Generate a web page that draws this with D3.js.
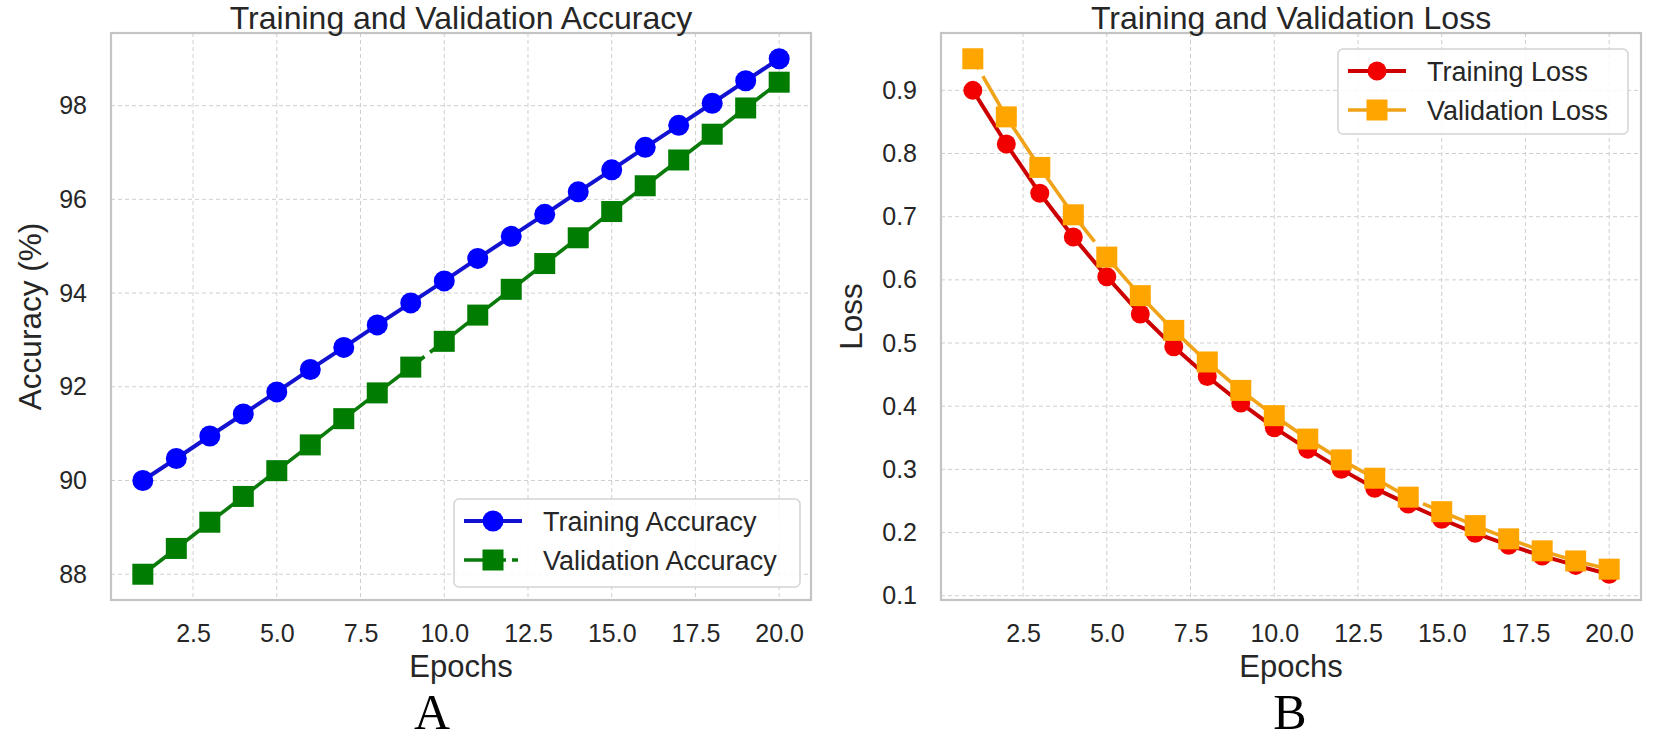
<!DOCTYPE html>
<html><head><meta charset="utf-8">
<script src="https://cdn.jsdelivr.net/npm/d3@7"></script>
<style>
body{margin:0;background:#fff}
svg{display:block}
text{font-family:"Liberation Sans",Arial,Helvetica,sans-serif;fill:#262626}
</style>
</head><body>
<svg id="c" width="1654" height="740"></svg>
<script>
// ---- data ----
const epochs    = [1,2,3,4,5,6,7,8,9,10,11,12,13,14,15,16,17,18,19,20];
const trainAcc  = [90.00,90.47,90.95,91.42,91.89,92.37,92.84,93.32,93.79,94.26,94.74,95.21,95.68,96.16,96.63,97.11,97.58,98.05,98.53,99.00];
const valAcc    = [88.00,88.55,89.11,89.66,90.21,90.76,91.32,91.87,92.42,92.97,93.53,94.08,94.63,95.18,95.74,96.29,96.84,97.39,97.95,98.50];
const trainLoss = [0.900,0.815,0.737,0.668,0.605,0.546,0.494,0.447,0.405,0.366,0.332,0.300,0.270,0.245,0.221,0.199,0.180,0.163,0.148,0.134];
const valLoss   = [0.950,0.858,0.778,0.703,0.636,0.575,0.520,0.470,0.425,0.385,0.348,0.315,0.286,0.256,0.233,0.211,0.190,0.171,0.155,0.142];
const xTicks    = [2.5,5,7.5,10,12.5,15,17.5,20];
const accTicks  = [88,90,92,94,96,98];
const lossTicks = [0.1,0.2,0.3,0.4,0.5,0.6,0.7,0.8,0.9];
const titles    = ["Training and Validation Accuracy","Training and Validation Loss"];
const yLabels   = ["Accuracy (%)","Loss"];
const xLabel    = "Epochs";
const letters   = ["A","B"];
const accNames  = ["Training Accuracy","Validation Accuracy"];
const lossNames = ["Training Loss","Validation Loss"];

const svg = d3.select("#c");
svg.append("rect").attr("width",1654).attr("height",740).attr("fill","#fff");

function pad(ext){const r=ext[1]-ext[0];return [ext[0]-0.05*r, ext[1]+0.05*r];}

function panel(cfg){
  const g = svg.append("g");
  const x = d3.scaleLinear().domain(pad(d3.extent(epochs))).range([cfg.left,cfg.right]);
  const allY = cfg.series.flatMap(s=>s.values);
  const y = d3.scaleLinear().domain(pad(d3.extent(allY))).range([cfg.bottom,cfg.top]);

  // grid
  g.append("g").selectAll("line").data(xTicks).join("line")
    .attr("x1",d=>x(d)).attr("x2",d=>x(d)).attr("y1",cfg.top).attr("y2",cfg.bottom)
    .attr("stroke","#cfcfcf").attr("stroke-width",1).attr("stroke-dasharray","4 3");
  g.append("g").selectAll("line").data(cfg.yTicks).join("line")
    .attr("y1",d=>y(d)).attr("y2",d=>y(d)).attr("x1",cfg.left).attr("x2",cfg.right)
    .attr("stroke","#cfcfcf").attr("stroke-width",1).attr("stroke-dasharray","4 3");

  // axes
  const ax = g.append("g").attr("transform",`translate(0,${cfg.bottom})`)
    .call(d3.axisBottom(x).tickValues(xTicks).tickSize(0).tickPadding(24).tickFormat(d3.format(".1f")));
  const ay = g.append("g").attr("transform",`translate(${cfg.left},0)`)
    .call(d3.axisLeft(y).tickValues(cfg.yTicks).tickSize(0).tickPadding(24).tickFormat(cfg.yFmt));
  [ax,ay].forEach(a=>{a.select(".domain").remove();a.selectAll("text").attr("font-size",25).attr("fill","#262626").attr("font-family","'Liberation Sans',Arial,sans-serif");});

  // spines
  g.append("rect").attr("x",cfg.left).attr("y",cfg.top)
    .attr("width",cfg.right-cfg.left).attr("height",cfg.bottom-cfg.top)
    .attr("fill","none").attr("stroke","#c4c4c4").attr("stroke-width",2.2);

  // series
  const line = d3.line().x((d,i)=>x(epochs[i])).y(d=>y(d));
  cfg.series.forEach(s=>{
    const p = g.append("path").datum(s.values).attr("d",line)
      .attr("fill","none").attr("stroke",s.lineColor).attr("stroke-width",s.lw)
      .attr("stroke-linejoin","round");
    if(s.dash){p.attr("stroke-dasharray",s.dash).attr("stroke-dashoffset",s.dashOffset);}
    const m = g.append("g");
    if(s.marker==="circle"){
      m.selectAll("circle").data(s.values).join("circle")
        .attr("cx",(d,i)=>x(epochs[i])).attr("cy",d=>y(d)).attr("r",s.size/2).attr("fill",s.color);
    } else {
      m.selectAll("rect").data(s.values).join("rect")
        .attr("x",(d,i)=>x(epochs[i])-s.size/2).attr("y",d=>y(d)-s.size/2)
        .attr("width",s.size).attr("height",s.size).attr("fill",s.color);
    }
  });

  // title & labels
  const cx = (cfg.left+cfg.right)/2;
  g.append("text").attr("x",cx).attr("y",29).attr("text-anchor","middle").attr("font-size",32).text(cfg.title);
  g.append("text").attr("x",cx).attr("y",677).attr("text-anchor","middle").attr("font-size",31).text(xLabel);
  g.append("text").attr("transform",`translate(${cfg.yLabelX},${(cfg.top+cfg.bottom)/2}) rotate(-90)`)
    .attr("text-anchor","middle").attr("font-size",31.5).text(cfg.yLabel);
  g.append("text").attr("x",cfg.letterX).attr("y",729).attr("text-anchor","middle")
    .attr("font-size",50).style("font-family","'Liberation Serif','Times New Roman',serif").style("fill","#000").text(cfg.letter);

  // legend
  const L = cfg.legend;
  const lg = g.append("g");
  lg.append("rect").attr("x",L.x).attr("y",L.y).attr("width",L.w).attr("height",L.h).attr("rx",5)
    .attr("fill","#fff").attr("fill-opacity",0.85).attr("stroke","#d4d4d4").attr("stroke-width",1.5);
  cfg.series.forEach((s,i)=>{
    const ry = L.y + 22 + i*39;
    const hl = lg.append("line").attr("x1",L.x+10).attr("x2",L.x+68).attr("y1",ry).attr("y2",ry)
      .attr("stroke",s.lineColor).attr("stroke-width",s.lw);
    if(s.legendDash){hl.attr("stroke-dasharray",s.legendDash);}
    const mx = L.x+39;
    if(s.marker==="circle"){
      lg.append("circle").attr("cx",mx).attr("cy",ry).attr("r",s.size/2).attr("fill",s.color);
    } else {
      lg.append("rect").attr("x",mx-s.size/2).attr("y",ry-s.size/2).attr("width",s.size).attr("height",s.size).attr("fill",s.color);
    }
    lg.append("text").attr("x",L.x+89).attr("y",ry+10).attr("font-size",27).text(s.name);
  });
}

panel({
  left:111, right:811, top:33, bottom:600,
  yTicks:accTicks, yFmt:d3.format("d"),
  title:titles[0], yLabel:yLabels[0], yLabelX:41, letter:letters[0], letterX:432,
  legend:{x:454,y:499,w:346,h:88},
  series:[
    {name:accNames[0], values:trainAcc, color:"#0000ff", lineColor:"#1212d0", lw:4, marker:"circle", size:21},
    {name:accNames[1], values:valAcc, color:"#007d00", lineColor:"#0a7a0a", lw:3.6, marker:"square", size:21,
     dash:"265 7", dashOffset:-91, legendDash:"42 6 6 6"}
  ]
});

panel({
  left:941, right:1641, top:33, bottom:600,
  yTicks:lossTicks, yFmt:d3.format(".1f"),
  title:titles[1], yLabel:yLabels[1], yLabelX:862, letter:letters[1], letterX:1290,
  legend:{x:1338,y:49,w:290,h:85},
  series:[
    {name:lossNames[0], values:trainLoss, color:"#f20000", lineColor:"#cc0000", lw:4, marker:"circle", size:19},
    {name:lossNames[1], values:valLoss, color:"#ffa500", lineColor:"#f0a318", lw:3.6, marker:"square", size:21,
     dash:"200 8", dashOffset:188}
  ]
});
</script>
</body></html>
